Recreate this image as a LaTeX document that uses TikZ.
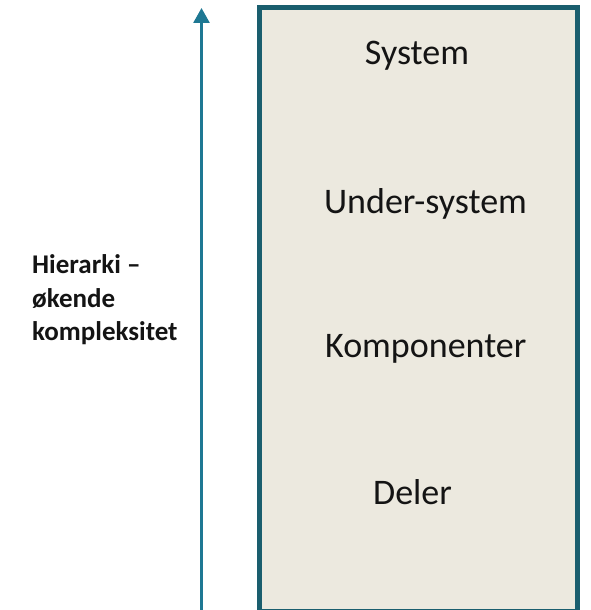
\documentclass[tikz,border=0pt]{standalone}
\usepackage{fontspec}
\setmainfont{Carlito}
\usetikzlibrary{arrows.meta}
\definecolor{arrowblue}{HTML}{1E7893}
\definecolor{boxedge}{HTML}{1A5E6E}
\definecolor{boxfill}{HTML}{ECE9DF}
\definecolor{ink}{HTML}{141414}
\tikzset{
  levelbox/.style={draw=boxedge, fill=boxfill, line width=5pt},
  levellabel/.style={anchor=base, inner sep=0pt, text=ink, font=\fontsize{36}{40}\selectfont},
  sidelabel/.style={anchor=base west, inner sep=0pt, text=ink, font=\bfseries\fontsize{27}{33}\selectfont},
  hierarrow/.style={draw=arrowblue, line width=2.7pt, -{Triangle[length=15pt,width=16pt]}}
}
\begin{document}
\begin{tikzpicture}[x=1pt,y=1pt]
  \useasboundingbox (0,0) rectangle (590,-610);
  % hierarchy column
  \draw[levelbox] (259,-7.5) rectangle (577,-611);
  % rising axis
  \coordinate (axisbottom) at (201.5,-615);
  \coordinate (axistop) at (201.5,-8);
  \draw[hierarrow] (axisbottom) -- (axistop);
  % levels
  \node[levellabel] (system) at (417,-65) {System};
  \node[levellabel] (subsystem) at (425.5,-213) {Under-system};
  \node[levellabel] (components) at (425.8,-357) {Komponenter};
  \node[levellabel] (parts) at (412.5,-504) {Deler};
  % axis caption
  \node[sidelabel] (cap1) at (32,-273) {Hierarki –};
  \node[sidelabel] (cap2) at (32,-307) {økende};
  \node[sidelabel] (cap3) at (32,-340) {kompleksitet};
\end{tikzpicture}
\end{document}
